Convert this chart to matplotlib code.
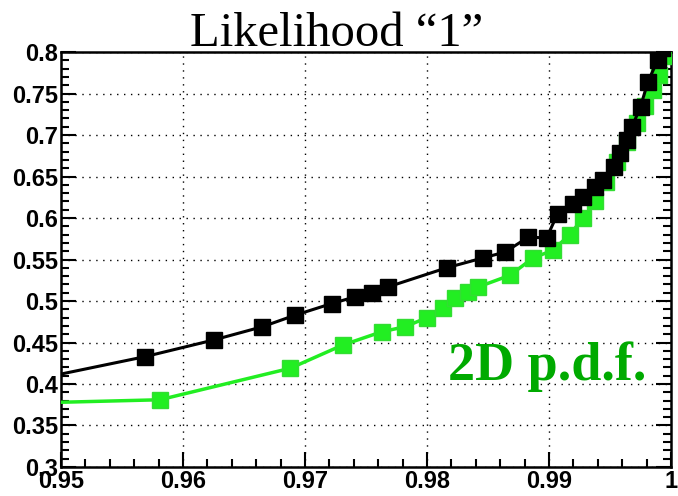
import matplotlib.pyplot as plt
from matplotlib.ticker import MultipleLocator

# --- data ---
black_x = [0.9500, 0.9569, 0.9625, 0.9665, 0.9692, 0.9722, 0.9741, 0.9755, 0.9768,
           0.9816, 0.9846, 0.9864, 0.9883, 0.9898, 0.9907, 0.9920, 0.9928, 0.9938,
           0.9944, 0.9953, 0.9958, 0.9964, 0.9968, 0.9975, 0.9981, 0.9989, 0.9993]
black_y = [0.412, 0.433, 0.453, 0.469, 0.483, 0.497, 0.505, 0.510, 0.517,
           0.540, 0.552, 0.559, 0.577, 0.576, 0.605, 0.617, 0.625, 0.637,
           0.646, 0.661, 0.678, 0.694, 0.710, 0.734, 0.764, 0.790, 0.805]

green_x = [0.9500, 0.9581, 0.9688, 0.9731, 0.9763, 0.9782, 0.9800, 0.9813, 0.9823,
           0.9834, 0.9842, 0.9868, 0.9887, 0.9903, 0.9917, 0.9928, 0.9938, 0.9947,
           0.9956, 0.9964, 0.9972, 0.9979, 0.9985, 0.9990, 0.9994]
green_y = [0.378, 0.381, 0.419, 0.447, 0.463, 0.469, 0.480, 0.492, 0.504,
           0.511, 0.517, 0.531, 0.552, 0.561, 0.580, 0.600, 0.620, 0.643,
           0.667, 0.692, 0.714, 0.735, 0.754, 0.772, 0.795]

title = "Likelihood \u201c1\u201d"
label = "2D p.d.f."

fig = plt.figure(figsize=(6.78, 4.96), dpi=100)
ax = fig.add_axes([0.09, 0.0585, 0.8997, 0.8365])

# first point of each curve is where the line enters the frame, no marker there
ax.plot(black_x, black_y, color='black', lw=2.2, marker='s', markersize=11.5,
        markevery=list(range(1, len(black_x))), zorder=4)
ax.plot(green_x, green_y, color='#22ee22', lw=2.5, marker='s', markersize=11.5,
        markeredgecolor='#33dd33', markevery=list(range(1, len(green_x))), zorder=3)

ax.set_xlim(0.95, 1.0)
ax.set_ylim(0.3, 0.8)

ax.xaxis.set_major_locator(MultipleLocator(0.01))
ax.xaxis.set_minor_locator(MultipleLocator(0.002))
ax.yaxis.set_major_locator(MultipleLocator(0.05))
ax.yaxis.set_minor_locator(MultipleLocator(0.01))
ax.xaxis.set_major_formatter(plt.FuncFormatter(lambda v, p: f"{v:g}"))
ax.yaxis.set_major_formatter(plt.FuncFormatter(lambda v, p: f"{v:g}"))

ax.tick_params(which='both', direction='in', right=True, top=False, width=1.5)
ax.tick_params(which='major', length=11, pad=2)
ax.tick_params(which='minor', length=6)
for lab in ax.get_xticklabels() + ax.get_yticklabels():
    lab.set_fontfamily('Liberation Sans')
    lab.set_fontweight('bold')
    lab.set_fontsize(17)

ax.grid(True, which='major', color='black', lw=1.0, linestyle=(0, (1, 4)))
for s in ax.spines.values():
    s.set_linewidth(1.8)

fig.text(0.497, 1 - 46 / 496, title, ha='center', va='baseline',
         fontfamily='Liberation Serif', fontsize=35)
ax.text(0.9817, 0.405, label, color='#00aa00', fontfamily='Liberation Serif',
        fontweight='bold', fontsize=39, ha='left', va='baseline', zorder=5)

fig.savefig('out.png', dpi=100)
